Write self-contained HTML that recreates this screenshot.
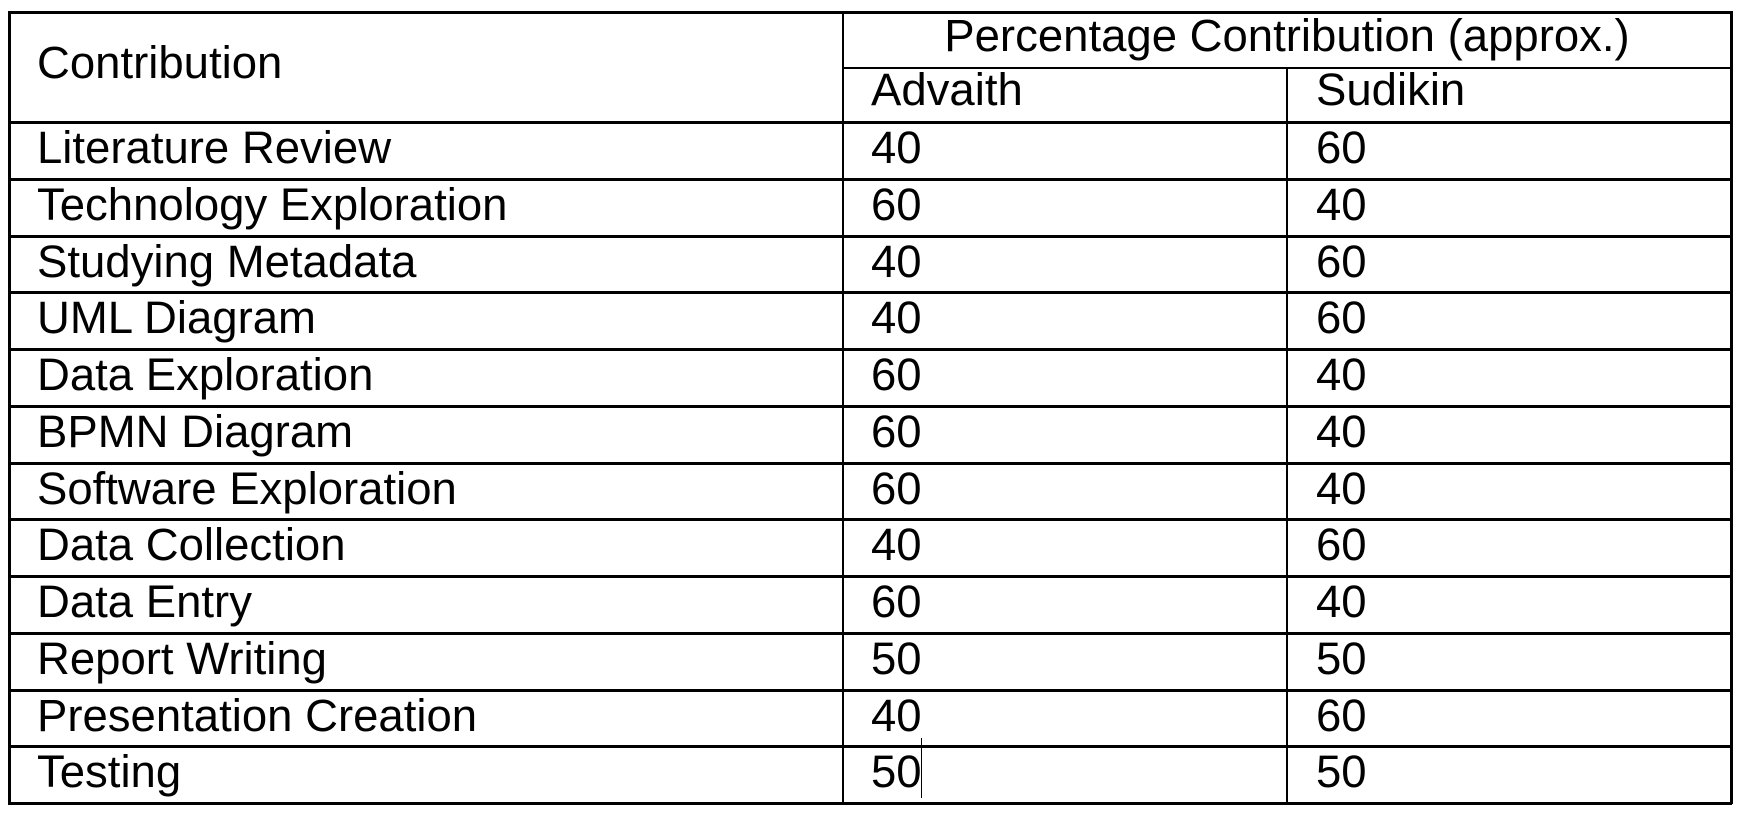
<!DOCTYPE html>
<html><head><meta charset="utf-8"><style>
html,body{margin:0;padding:0;background:#fff;width:1743px;height:814px;overflow:hidden;position:relative;font-family:"Liberation Sans",Arial,sans-serif;color:#000}
.t{position:absolute;font-size:45.5px;line-height:1;white-space:nowrap}
.h{position:absolute;background:#000}
</style></head><body>
<div id="tbl"></div>
<script>
const tasks=["Literature Review","Technology Exploration","Studying Metadata","UML Diagram","Data Exploration","BPMN Diagram","Software Exploration","Data Collection","Data Entry","Report Writing","Presentation Creation","Testing"];
const advaith=[40,60,40,40,60,60,60,40,60,50,40,50];
const sudikin=[60,40,60,60,40,40,40,60,40,50,60,50];
const root=document.getElementById('tbl');
const L=9,R=1731,T=12,B=803,C1=843,C2=1287,HB=122,SUB=68;
const rowH=(B-HB)/tasks.length;
function line(x,y,w,h,name){const d=document.createElement('div');d.className='h';d.style.left=x+'px';d.style.top=y+'px';d.style.width=w+'px';d.style.height=h+'px';


root.appendChild(d);}
function txt(s,x,base,name){const d=document.createElement('div');d.className='t';d.textContent=s;d.style.left=x+'px';d.style.top=(base-41)+'px';


root.appendChild(d);return d;}
line(L-1,T-1,R-L+2,3,'table-top-border');
line(L-1,B-1,R-L+2,3,'table-bottom-border');
line(L-1,T-1,3,B-T+2,'table-left-border');
line(R-1,T-1,3,B-T+2,'table-right-border');
line(C1-1,T,2,B-T,'column-divider-1');
line(C2-1,SUB,2,B-SUB,'column-divider-2');
line(C1,SUB-1,R-C1,2,'subheader-line');
for(let i=0;i<tasks.length;i++){line(L,HB+i*rowH-1,R-L,3,'row-line');}
txt('Contribution',37,81,'contribution-header');
const p=txt('Percentage Contribution (approx.)',0,54,'percentage-header');
txt('Advaith',871,108,'advaith-header');
txt('Sudikin',1316,108,'sudikin-header');
tasks.forEach((t,i)=>{const base=HB+i*rowH+44;
txt(t,37,base,'task-label');
txt(String(advaith[i]),871,base,'advaith-value');
txt(String(sudikin[i]),1316,base,'sudikin-value');});
const w=p.getBoundingClientRect().width;p.style.left=((C1+R)/2-w/2)+'px';
const cur=document.createElement('div');cur.className='h';cur.style.left='921px';cur.style.top='738px';cur.style.width='1px';cur.style.height='60px';


root.appendChild(cur);
</script>
</body></html>
